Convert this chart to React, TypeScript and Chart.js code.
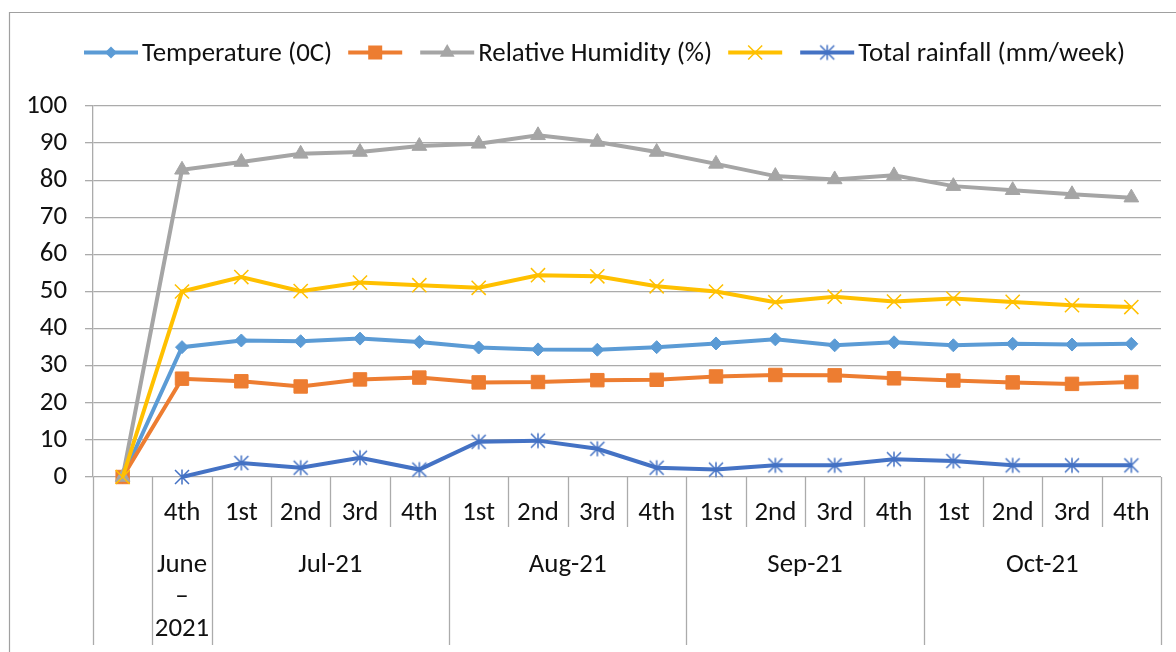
import React, { useEffect, useRef } from 'react';
import { Chart, registerables } from 'chart.js';

Chart.register(...registerables);

// ---------- data ----------
const weekLabels = ['', '4th', '1st', '2nd', '3rd', '4th', '1st', '2nd', '3rd', '4th', '1st', '2nd', '3rd', '4th', '1st', '2nd', '3rd', '4th'];
const monthLabels = [[''], ['June', '–', '2021'], ['Jul-21'], ['Aug-21'], ['Sep-21'], ['Oct-21']];
const monthSpans = [1, 1, 4, 4, 4, 4];
const yTicks = [0, 10, 20, 30, 40, 50, 60, 70, 80, 90, 100];

const temperature = [0, 35.0, 36.8, 36.6, 37.3, 36.4, 34.9, 34.4, 34.3, 35.0, 36.0, 37.1, 35.5, 36.3, 35.5, 35.9, 35.7, 35.9];
const seriesOrange = [0, 26.5, 25.8, 24.4, 26.3, 26.8, 25.5, 25.6, 26.1, 26.2, 27.1, 27.5, 27.4, 26.6, 26.0, 25.5, 25.1, 25.6];
const humidity = [0, 82.8, 84.9, 87.1, 87.6, 89.2, 89.8, 92.1, 90.3, 87.6, 84.4, 81.1, 80.2, 81.3, 78.4, 77.3, 76.2, 75.3];
const seriesYellow = [0, 50.0, 53.9, 50.1, 52.4, 51.7, 51.0, 54.4, 54.1, 51.4, 50.0, 47.1, 48.6, 47.3, 48.1, 47.2, 46.3, 45.8];
const rainfall = [null, 0, 3.8, 2.5, 5.2, 2.0, 9.5, 9.8, 7.6, 2.5, 2.0, 3.15, 3.15, 4.8, 4.3, 3.15, 3.15, 3.15];

const seriesLabels = ['Temperature (0C)', '', 'Relative Humidity (%)', '', 'Total rainfall (mm/week)'];
const seriesColors = ['#5b9bd5', '#ed7d31', '#a5a5a5', '#ffc000', '#4472c4'];

// ---------- styling ----------
const FONT_FAMILY = 'Carlito, Calibri, Lato, sans-serif';
const TEXT_COLOR = '#111111';
const GRID_COLOR = '#ababab';

function makeAsterisk(color: string): HTMLCanvasElement {
  const c = document.createElement('canvas');
  c.width = 20;
  c.height = 20;
  const g = c.getContext('2d')!;
  g.strokeStyle = color;
  g.lineWidth = 1.5;
  g.beginPath();
  g.moveTo(3, 3); g.lineTo(17, 17);
  g.moveTo(17, 3); g.lineTo(3, 17);
  g.moveTo(10, 2.5); g.lineTo(10, 17.5);
  g.stroke();
  return c;
}

function drawMarker(ctx: CanvasRenderingContext2D, kind: string, x: number, y: number, color: string, img?: HTMLCanvasElement) {
  ctx.save();
  ctx.fillStyle = color;
  ctx.strokeStyle = color;
  ctx.beginPath();
  if (kind === 'diamond') {
    const r = 6;
    ctx.moveTo(x, y - r); ctx.lineTo(x + r, y); ctx.lineTo(x, y + r); ctx.lineTo(x - r, y); ctx.closePath();
    ctx.fill();
  } else if (kind === 'square') {
    ctx.rect(x - 7, y - 7, 14, 14);
    ctx.fill();
  } else if (kind === 'triangle') {
    const r = 8.5;
    ctx.moveTo(x, y - r);
    ctx.lineTo(x + r * 0.866, y + r / 2);
    ctx.lineTo(x - r * 0.866, y + r / 2);
    ctx.closePath();
    ctx.fill();
  } else if (kind === 'x') {
    ctx.lineWidth = 1.5;
    ctx.moveTo(x - 7, y - 7); ctx.lineTo(x + 7, y + 7);
    ctx.moveTo(x + 7, y - 7); ctx.lineTo(x - 7, y + 7);
    ctx.stroke();
  } else if (kind === 'asterisk' && img) {
    ctx.drawImage(img, x - img.width / 2, y - img.height / 2);
  }
  ctx.restore();
}

export default function App() {
  const canvasRef = useRef<HTMLCanvasElement | null>(null);

  useEffect(() => {
    const canvas = canvasRef.current;
    if (!canvas) return;

    // fit font size to reference text width
    const mc = document.createElement('canvas').getContext('2d')!;
    mc.font = `100px ${FONT_FAMILY}`;
    const wRef = mc.measureText('Total rainfall (mm/week)').width;
    const fontSize = Math.max(14, Math.min(30, (100 * 267) / wRef));
    const font = `${fontSize}px ${FONT_FAMILY}`;
    const TEXT_DY = 2;

    const asterisk = makeAsterisk(seriesColors[4]);
    const markerKinds = ['diamond', 'square', 'triangle', 'x', 'asterisk'];

    const decorPlugin = {
      id: 'excelDecor',
      afterDraw(chart: any) {
        const ctx: CanvasRenderingContext2D = chart.ctx;
        const { left, right, bottom } = chart.chartArea;
        const xs = chart.scales.x;
        ctx.save();

        // outer frame
        ctx.strokeStyle = '#a0a0a0';
        ctx.lineWidth = 1.2;
        ctx.beginPath();
        ctx.moveTo(9.5, 652);
        ctx.lineTo(9.5, 12.5);
        ctx.lineTo(1176, 12.5);
        ctx.stroke();

        // category boundaries
        const n = weekLabels.length;
        const boundary = (k: number) => {
          if (k <= 0) return left;
          if (k >= n) return right;
          return (xs.getPixelForValue(k - 1) + xs.getPixelForValue(k)) / 2;
        };
        const groupStarts: number[] = [];
        let acc = 0;
        for (const s of monthSpans) { groupStarts.push(acc); acc += s; }
        groupStarts.push(acc);

        ctx.strokeStyle = GRID_COLOR;
        ctx.lineWidth = 1.3;
        for (let k = 0; k <= n; k++) {
          const bx = Math.round(boundary(k)) + 0.5;
          const long = groupStarts.includes(k);
          ctx.beginPath();
          ctx.moveTo(bx, bottom);
          ctx.lineTo(bx, long ? 645 : 527);
          ctx.stroke();
        }

        // week labels
        ctx.fillStyle = TEXT_COLOR;
        ctx.font = font;
        ctx.textAlign = 'center';
        ctx.textBaseline = 'middle';
        weekLabels.forEach((lab, i) => {
          if (lab) ctx.fillText(lab, xs.getPixelForValue(i), 511 + TEXT_DY);
        });

        // month labels
        monthLabels.forEach((lines, gi) => {
          const cx = (boundary(groupStarts[gi]) + boundary(groupStarts[gi + 1])) / 2;
          lines.forEach((ln, li) => {
            if (ln) ctx.fillText(ln, cx, 563 + TEXT_DY + li * 32);
          });
        });

        // legend
        const ly = 52.5;
        let lx = 84;
        ctx.textAlign = 'left';
        chart.data.datasets.forEach((ds: any, i: number) => {
          ctx.strokeStyle = seriesColors[i];
          ctx.lineWidth = 4;
          ctx.beginPath();
          ctx.moveTo(lx, ly);
          ctx.lineTo(lx + 54, ly);
          ctx.stroke();
          drawMarker(ctx, markerKinds[i], lx + 27, ly, seriesColors[i], asterisk);
          lx += 54;
          if (ds.label) {
            lx += 4;
            ctx.fillStyle = TEXT_COLOR;
            ctx.fillText(ds.label, lx, ly + TEXT_DY);
            lx += ctx.measureText(ds.label).width + 16;
          } else {
            lx += 18;
          }
        });

        ctx.restore();
      },
    };

    const common = {
      borderWidth: 4,
      tension: 0,
      clip: false as any,
      pointBorderWidth: 1,
    };

    const chart = new Chart(canvas, {
      type: 'line',
      data: {
        labels: weekLabels.map((w, i) => `${i}:${w}`),
        datasets: [
          {
            ...common,
            label: seriesLabels[0],
            data: temperature,
            borderColor: seriesColors[0],
            backgroundColor: seriesColors[0],
            pointStyle: 'rectRot',
            pointRadius: 6.5,
            pointBackgroundColor: seriesColors[0],
            pointBorderColor: seriesColors[0],
            order: 4,
          },
          {
            ...common,
            label: seriesLabels[1],
            data: seriesOrange,
            borderColor: seriesColors[1],
            backgroundColor: seriesColors[1],
            pointStyle: 'rect',
            pointRadius: 9.5,
            pointBackgroundColor: seriesColors[1],
            pointBorderColor: seriesColors[1],
            order: 3,
          },
          {
            ...common,
            label: seriesLabels[2],
            data: humidity,
            borderColor: seriesColors[2],
            backgroundColor: seriesColors[2],
            pointStyle: 'triangle',
            pointRadius: 8.5,
            pointBackgroundColor: seriesColors[2],
            pointBorderColor: seriesColors[2],
            order: 2,
          },
          {
            ...common,
            label: seriesLabels[3],
            data: seriesYellow,
            borderColor: seriesColors[3],
            backgroundColor: seriesColors[3],
            pointStyle: 'crossRot',
            pointRadius: 10,
            pointBorderWidth: 1.5,
            pointBorderColor: seriesColors[3],
            order: 1,
          },
          {
            ...common,
            label: seriesLabels[4],
            data: rainfall,
            borderColor: seriesColors[4],
            backgroundColor: seriesColors[4],
            pointStyle: asterisk as any,
            pointRadius: 10,
            order: 0,
          },
        ],
      },
      options: {
        animation: false,
        responsive: false,
        maintainAspectRatio: false,
        layout: { padding: { left: 0, right: 15, top: 106, bottom: 175 } },
        plugins: {
          legend: { display: false },
          tooltip: { enabled: false },
          title: { display: false },
        },
        scales: {
          x: {
            type: 'category',
            display: false,
            offset: true,
          },
          y: {
            min: 0,
            max: 100,
            afterFit: (s: any) => { s.width = 93; },
            afterBuildTicks: (s: any) => { s.ticks = yTicks.map((v) => ({ value: v })); },
            ticks: {
              stepSize: 10,
              padding: 18,
              color: TEXT_COLOR,
              font: { family: FONT_FAMILY, size: fontSize },
            },
            grid: {
              color: GRID_COLOR,
              lineWidth: 1.3,
              drawTicks: true,
              tickLength: 8,
              tickColor: GRID_COLOR,
            },
            border: { display: true, color: GRID_COLOR, width: 1.3 },
          },
        },
      },
      plugins: [decorPlugin],
    });

    return () => chart.destroy();
  }, []);

  return (
    <div style={{ position: 'absolute', left: 0, top: 0, width: 1176, height: 652, background: '#ffffff' }}>
      <canvas ref={canvasRef} width={1176} height={652} style={{ display: 'block' }} />
    </div>
  );
}
